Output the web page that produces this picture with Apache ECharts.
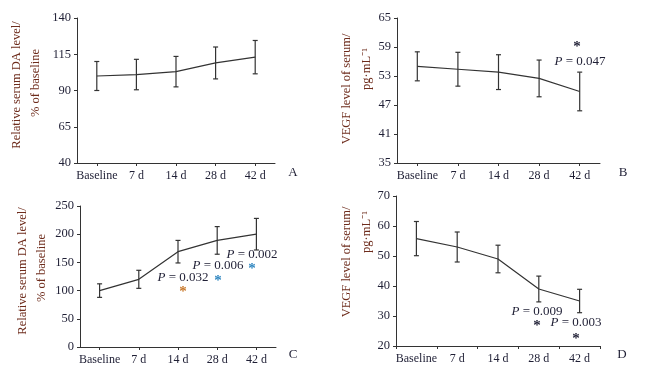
<!DOCTYPE html>
<html>
<head>
<meta charset="utf-8">
<script src="https://cdn.jsdelivr.net/npm/echarts@6/dist/echarts.min.js"></script>
<style>
  html, body { margin: 0; padding: 0; background: #fff; }
  #chart { width: 656px; height: 369px; }
</style>
</head>
<body>
<div id="chart"></div>
<script>
// time points shared by all four panels
const categories = ['Baseline', '7 d', '14 d', '28 d', '42 d'];

// A: relative serum DA level, % of baseline
const daMeanA = [100, 101, 103, 109, 113];
const daErrA = [10, 10.5, 10.5, 11, 11.5];
// B: VEGF level of serum, pg/mL
const vegfMeanB = [55, 54.4, 53.8, 52.5, 49.8];
const vegfErrB = [3, 3.5, 3.6, 3.8, 4];
// C: relative serum DA level, % of baseline
const daMeanC = [100, 120, 169, 189, 200];
const daErrC = [12, 16, 20, 24.5, 28];
// D: VEGF level of serum, pg/mL
const vegfMeanD = [55.8, 53, 49, 39, 35];
const vegfErrD = [5.7, 5, 4.6, 4.3, 3.9];

// y axis ticks [min, max, step]
const yTicksA = [40, 140, 25];
const yTicksB = [35, 65, 6];
const yTicksC = [0, 250, 50];
const yTicksD = [20, 70, 10];

const serif = "'Liberation Serif', 'Times New Roman', serif";
const inkColor = '#1f1f35';
const titleColor = '#6e2c1c';
const lineColor = '#333';

const grids = [
  { left: 77, top: 18, width: 198, height: 145 },
  { left: 397, top: 18, width: 203, height: 145 },
  { left: 80, top: 206, width: 196, height: 141 },
  { left: 396, top: 196, width: 204, height: 150 }
];

function makeX(idx, centerTicks) {
  return {
    type: 'category',
    gridIndex: idx,
    data: categories,
    boundaryGap: true,
    axisLine: { lineStyle: { color: lineColor, width: 1 } },
    axisTick: { show: true, alignWithLabel: centerTicks, length: 3, lineStyle: { color: lineColor } },
    axisLabel: { color: inkColor, fontFamily: serif, fontSize: 12, margin: 7, interval: 0 },
    splitLine: { show: false }
  };
}

function makeY(idx, ticks) {
  return {
    type: 'value',
    gridIndex: idx,
    min: ticks[0],
    max: ticks[1],
    interval: ticks[2],
    axisLine: { show: true, lineStyle: { color: lineColor, width: 1 } },
    axisTick: { show: true, length: 3, lineStyle: { color: lineColor } },
    axisLabel: { color: inkColor, fontFamily: serif, fontSize: 12.5, margin: 6 },
    splitLine: { show: false }
  };
}

function meanLine(idx, mean) {
  return {
    type: 'line',
    xAxisIndex: idx,
    yAxisIndex: idx,
    data: mean,
    symbol: 'none',
    lineStyle: { color: lineColor, width: 1.2 },
    z: 2
  };
}

function errorBars(idx, mean, err) {
  return {
    type: 'custom',
    xAxisIndex: idx,
    yAxisIndex: idx,
    data: mean.map((m, i) => [i, m - err[i], m + err[i]]),
    encode: { x: 0, y: [1, 2] },
    z: 3,
    renderItem: function (params, api) {
      const x = api.value(0);
      const lo = api.coord([x, api.value(1)]);
      const hi = api.coord([x, api.value(2)]);
      const w = 2.5;
      const style = { stroke: lineColor, lineWidth: 1.2 };
      return {
        type: 'group',
        children: [
          { type: 'line', shape: { x1: lo[0], y1: lo[1], x2: hi[0], y2: hi[1] }, style: style },
          { type: 'line', shape: { x1: lo[0] - w, y1: lo[1], x2: lo[0] + w, y2: lo[1] }, style: style },
          { type: 'line', shape: { x1: hi[0] - w, y1: hi[1], x2: hi[0] + w, y2: hi[1] }, style: style }
        ]
      };
    }
  };
}

// rotated axis titles, one element per line
function vTitle(x, y, text) {
  return {
    type: 'text', x: x, y: y, rotation: Math.PI / 2,
    style: { text: text, fill: titleColor, font: '12.5px ' + serif, align: 'center', verticalAlign: 'middle' }
  };
}
function label(x, y, text, color, size) {
  return {
    type: 'text', x: x, y: y,
    style: { text: text, fill: color || inkColor, font: (size || 12) + 'px ' + serif, align: 'center', verticalAlign: 'middle' }
  };
}
function star(x, y, color) {
  return {
    type: 'text', x: x, y: y,
    style: { text: '*', fill: color || inkColor, font: 'bold 15px ' + serif, align: 'center', verticalAlign: 'middle' }
  };
}
function pValue(x, y, value) {
  return {
    type: 'text', x: x, y: y,
    style: {
      text: '{p|P} = ' + value,
      fill: inkColor, font: '13px ' + serif, align: 'center', verticalAlign: 'middle',
      rich: { p: { fontStyle: 'italic', fontFamily: serif, fontSize: 13, fill: inkColor } }
    }
  };
}

const chart = echarts.init(document.getElementById('chart'), null, { renderer: 'canvas' });
chart.setOption({
  backgroundColor: '#fff',
  animation: false,
  grid: grids,
  xAxis: [makeX(0, true), makeX(1, true), makeX(2, true), makeX(3, false)],
  yAxis: [makeY(0, yTicksA), makeY(1, yTicksB), makeY(2, yTicksC), makeY(3, yTicksD)],
  series: [
    meanLine(0, daMeanA), errorBars(0, daMeanA, daErrA),
    meanLine(1, vegfMeanB), errorBars(1, vegfMeanB, vegfErrB),
    meanLine(2, daMeanC), errorBars(2, daMeanC, daErrC),
    meanLine(3, vegfMeanD), errorBars(3, vegfMeanD, vegfErrD)
  ],
  graphic: [
    vTitle(17, 85, 'Relative serum DA level/'),
    vTitle(36, 83, '% of baseline'),
    vTitle(347, 89, 'VEGF level of serum/'),
    vTitle(367, 69, 'pg\u00b7mL\u207b\u00b9'),
    vTitle(23, 271, 'Relative serum DA level/'),
    vTitle(42, 268, '% of baseline'),
    vTitle(347, 262, 'VEGF level of serum/'),
    vTitle(367, 232, 'pg\u00b7mL\u207b\u00b9'),

    label(293, 173, 'A', inkColor, 13), label(623, 173, 'B', inkColor, 13),
    label(293, 355, 'C', inkColor, 13), label(622, 355, 'D', inkColor, 13),

    // B annotation
    star(577, 47),
    pValue(580, 62, '0.047'),
    // C annotations
    pValue(183, 278, '0.032'),
    star(183, 292, '#c8782a'),
    pValue(218, 266, '0.006'),
    star(218, 281, '#2f86c0'),
    pValue(252, 255, '0.002'),
    star(252, 269, '#2f86c0'),
    // D annotations
    pValue(537, 312, '0.009'),
    star(537, 326),
    pValue(576, 323, '0.003'),
    star(576, 339)
  ]
});
</script>
</body>
</html>
